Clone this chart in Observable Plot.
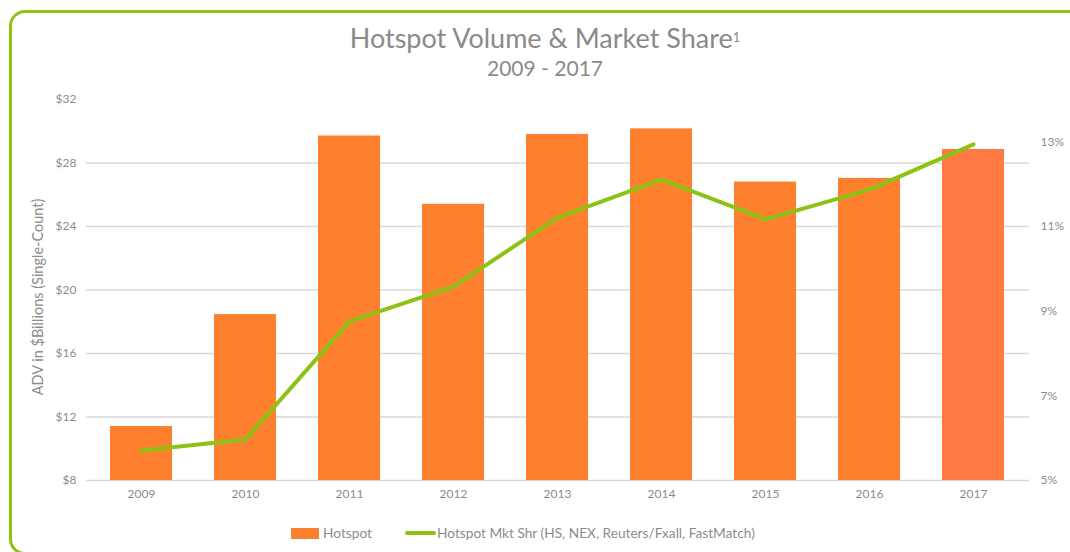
<!DOCTYPE html>
<html>
<head>
<meta charset="utf-8">
<script src="https://cdn.jsdelivr.net/npm/d3@7"></script>
<script src="https://cdn.jsdelivr.net/npm/@observablehq/plot@0.6"></script>
<style>
  html, body { margin: 0; padding: 0; background: #fff; width: 1070px; height: 552px; overflow: hidden; font-family: Lato, "Open Sans", sans-serif; }
  #frame { position: absolute; left: 9px; top: 10px; width: 1090px; height: 545px; border: 3px solid #8cc214; border-radius: 16px; box-sizing: border-box; }
  #title { position: absolute; left: 0; width: 1090px; top: 22px; text-align: center; color: #8a8a8a; font-size: 27px; line-height: 32px; }
  #title sup { font-size: 13px; vertical-align: top; position: relative; top: -1px; }
  #subtitle { position: absolute; left: 0; width: 1090px; top: 55px; text-align: center; color: #8a8a8a; font-size: 21px; line-height: 26px; }
  #chart { position: absolute; left: 0; top: 0; }
  #legend { position: absolute; top: 524px; left: 0; width: 1070px; height: 20px; font-size: 13.7px; color: #8c8c8c; }
  .sw { position: absolute; }
  .lt { position: absolute; top: 0px; line-height: 18px; }
</style>
</head>
<body>
<div id="frame"></div>
<div id="chart"></div>
<div id="title">Hotspot Volume &amp; Market Share<sup>1</sup></div>
<div id="subtitle">2009 - 2017</div>
<div id="legend">
  <div class="sw" style="left:291px; top:4px; width:28px; height:11px; background:#fe7f2d;"></div>
  <div class="lt" style="left:323px;">Hotspot</div>
  <div class="sw" style="left:405px; top:7px; width:31px; height:4px; background:#8cc214; border-radius:2px;"></div>
  <div class="lt" style="left:437px;">Hotspot Mkt Shr (HS, NEX, Reuters/Fxall, FastMatch)</div>
</div>
<script>
const years = ["2009", "2010", "2011", "2012", "2013", "2014", "2015", "2016", "2017"];
const volume = [11.4, 18.45, 29.7, 25.4, 29.8, 30.15, 26.8, 27.03, 28.85];
const share = [5.71, 5.97, 8.76, 9.58, 11.21, 12.11, 11.17, 11.87, 12.94];
const leftTicks = [8, 12, 16, 20, 24, 28, 32];
const gridTicks = [8, 12, 16, 20, 24, 28];
const rightTicks = [5, 7, 9, 11, 13];

// secondary axis 5%–14% mapped onto $8–$32
const toDollar = p => 8 + (p - 5) * 24 / 9;
const toPct = d => 5 + (d - 8) * 9 / 24;

const rows = years.map((y, i) => ({year: y, vol: volume[i], pct: share[i], pv: toDollar(share[i])}));

const gray = "#8c8c8c";
const chart = Plot.plot({
  width: 1070,
  height: 505,
  marginTop: 99,
  marginBottom: 25,
  marginLeft: 86,
  marginRight: 41,
  style: {fontFamily: "Lato, 'Open Sans', sans-serif", fontSize: "12px", color: gray, background: "transparent"},
  x: {type: "band", domain: years, paddingInner: 0.4, paddingOuter: 0.2},
  y: {domain: [8, 32]},
  marks: [
    Plot.ruleY(gridTicks, {stroke: "#d9d9d9", strokeWidth: 1.5}),
    Plot.barY(rows, {x: "year", y1: 8, y2: "vol", fill: d => d.year === "2017" ? "#ff7a42" : "#fe7f2d"}),
    Plot.lineY(rows, {x: "year", y: "pv", stroke: "#8cc214", strokeWidth: 4, strokeLinejoin: "round", strokeLinecap: "round"}),
    Plot.axisX({tickSize: 0, tickPadding: 9, fontSize: 12, label: null, fill: gray}),
    Plot.axisY({anchor: "left", ticks: leftTicks, tickSize: 0, tickPadding: 10, tickFormat: d => "$" + d,
      fontSize: 12, fill: gray, label: "ADV in $Billions (Single-Count)", labelAnchor: "center", labelArrow: "none", labelOffset: 54}),
    Plot.axisY({anchor: "right", ticks: rightTicks.map(toDollar), tickSize: 0, tickPadding: 11,
      tickFormat: d => Math.round(toPct(d)) + "%", fontSize: 12, fill: gray, label: null})
  ]
});
document.getElementById("chart").appendChild(chart);
chart.querySelectorAll("text").forEach(t => {
  if (t.textContent.startsWith("ADV")) {
    t.style.fontSize = "14.5px";
    t.setAttribute("dx", "-7");
  }
});
</script>
</body>
</html>
